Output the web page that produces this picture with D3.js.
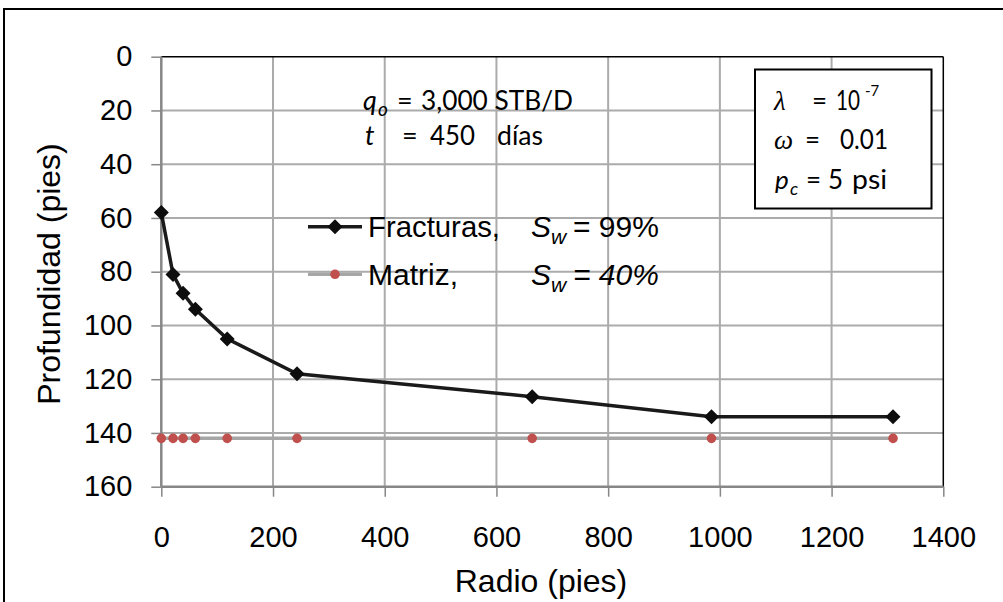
<!DOCTYPE html>
<html>
<head>
<meta charset="utf-8">
<script src="https://cdn.jsdelivr.net/npm/d3@7"></script>
<style>
  html, body { margin: 0; padding: 0; background: #fff; }
  svg { display: block; }
</style>
</head>
<body>
<svg id="chart" width="1003" height="602"></svg>
<script>
// ---- data ----
const radio = [0, 21, 39, 61, 118, 243, 664, 985, 1310];
const fracturas = [58, 81, 88, 94, 105, 118, 126.5, 134, 134];
const matriz = [142, 142, 142, 142, 142, 142, 142, 142, 142];
const xTicks = [0, 200, 400, 600, 800, 1000, 1200, 1400];
const yTicks = [0, 20, 40, 60, 80, 100, 120, 140, 160];
const seriesNames = ["Fracturas,", "Matriz,"];

// ---- layout ----
const svg = d3.select("#chart");
const L = 161.3, R = 943.3, T = 56.7, B = 486.7;
const x = d3.scaleLinear().domain([0, 1400]).range([L, R]);
const y = d3.scaleLinear().domain([0, 160]).range([T, B]);
const ARIAL = "'Liberation Sans', Arial, sans-serif";
const CAL = "Lato, 'Open Sans', sans-serif";

// outer frame
svg.append("rect").attr("x", 4).attr("y", 9).attr("width", 1020).attr("height", 620)
  .attr("fill", "#fff").attr("stroke", "#000").attr("stroke-width", 2);

// gridlines
const grid = svg.append("g");
grid.selectAll("line.h").data(yTicks.filter(d => d > 0 && d < 160)).join("line")
  .attr("x1", L).attr("x2", R).attr("y1", d => y(d)).attr("y2", d => y(d))
  .attr("stroke", "#ababab").attr("stroke-width", 2);
grid.selectAll("line.v").data(xTicks.filter(d => d > 0 && d < 1400)).join("line")
  .attr("y1", T).attr("y2", B).attr("x1", d => x(d)).attr("x2", d => x(d))
  .attr("stroke", "#ababab").attr("stroke-width", 2);

// plot border top/right
svg.append("line").attr("x1", L).attr("x2", R).attr("y1", T).attr("y2", T).attr("stroke", "#000").attr("stroke-width", 1.5);
svg.append("line").attr("x1", R).attr("x2", R).attr("y1", T).attr("y2", B).attr("stroke", "#000").attr("stroke-width", 1.5);

// axes
const yAxis = d3.axisLeft(y).tickValues(yTicks).tickSize(10).tickPadding(19).tickFormat(d3.format("d"));
const gy = svg.append("g").attr("transform", `translate(${L},0)`).call(yAxis);
const xAxis = d3.axisBottom(x).tickValues(xTicks).tickSize(10).tickPadding(30).tickFormat(d3.format("d"));
const gx = svg.append("g").attr("transform", `translate(0,${B})`).call(xAxis);
[gx, gy].forEach(g => {
  g.select(".domain").attr("stroke", "#878787").attr("stroke-width", 2.5);
  g.selectAll(".tick line").attr("stroke", "#878787").attr("stroke-width", 1.5);
  g.selectAll(".tick text").attr("fill", "#000").attr("font-family", ARIAL).attr("font-size", 29);
});
gx.select(".domain").attr("d", `M${L},0H${R}`);
gy.select(".domain").attr("d", `M0,${T}V${B}`);

// series: matriz
const lineM = d3.line().x((d, i) => x(radio[i])).y(d => y(d));
svg.append("path").datum(matriz).attr("d", lineM).attr("fill", "none")
  .attr("stroke", "#a6a6a6").attr("stroke-width", 3.5);
svg.append("g").selectAll("circle").data(matriz).join("circle")
  .attr("cx", (d, i) => x(radio[i])).attr("cy", d => y(d)).attr("r", 4.8).attr("fill", "#c0504d");

// series: fracturas
svg.append("path").datum(fracturas).attr("d", lineM).attr("fill", "none")
  .attr("stroke", "#1a1a1a").attr("stroke-width", 3.5);
svg.append("g").selectAll("path").data(fracturas).join("path")
  .attr("d", "M0,-7.5L7.5,0L0,7.5L-7.5,0Z")
  .attr("transform", (d, i) => `translate(${x(radio[i])},${y(d)})`).attr("fill", "#0d0d0d");

// axis titles
svg.append("text").attr("x", 541).attr("y", 592).attr("text-anchor", "middle")
  .attr("font-family", ARIAL).attr("font-size", 32).text("Radio (pies)");
svg.append("text").attr("transform", "translate(60,274) rotate(-90)").attr("text-anchor", "middle")
  .attr("font-family", ARIAL).attr("font-size", 32).text("Profundidad (pies)");

// helper for text pieces
function piece(t, px, py, opts = {}) {
  const el = svg.append("text").attr("x", px).attr("y", py)
    .attr("font-family", opts.family || CAL).attr("font-size", opts.size || 25)
    .attr("fill", "#000").text(t);
  if (opts.italic) el.attr("font-style", "italic");
  if (opts.len) el.attr("textLength", opts.len).attr("lengthAdjust", "spacingAndGlyphs");
  return el;
}

// annotation q_o, t
piece("q", 363, 110, { italic: true, size: 27 });
piece("o", 378, 116, { italic: true, size: 19 });
piece("=", 397, 110, { size: 27 });
piece("3,000 STB/D", 421, 110, { len: 152, size: 27 });
piece("t", 365, 145, { italic: true, size: 27 });
piece("=", 402, 145, { size: 27 });
piece("450", 430, 145, { len: 45, size: 27 });
piece("días", 497, 145, { len: 46, size: 27 });

// parameter box
svg.append("rect").attr("x", 755).attr("y", 69.5).attr("width", 176.5).attr("height", 139)
  .attr("fill", "#fff").attr("stroke", "#000").attr("stroke-width", 2);
piece("λ", 774, 110, { italic: true, family: "'Liberation Serif', serif", size: 27 });
piece("=", 812, 110, { size: 26 });
piece("10", 836, 110, { len: 24, size: 26 });
piece("-7", 865, 96, { size: 15 });
piece("ω", 774, 149, { italic: true, family: "'Liberation Serif', serif", size: 27 });
piece("=", 805, 149, { size: 26 });
piece("0.01", 840, 149, { len: 48, size: 26 });
piece("p", 775, 189, { italic: true, size: 26 });
piece("c", 790, 195, { italic: true, size: 18 });
piece("=", 806, 189, { size: 26 });
piece("5", 828, 189, { size: 26 });
piece("psi", 852, 189, { len: 35, size: 26 });

// legend
const legY = [226.7, 274.3];
svg.append("line").attr("x1", 308).attr("x2", 362).attr("y1", legY[0]).attr("y2", legY[0])
  .attr("stroke", "#1a1a1a").attr("stroke-width", 3.5);
svg.append("path").attr("d", "M0,-7.5L7.5,0L0,7.5L-7.5,0Z")
  .attr("transform", `translate(335,${legY[0]})`).attr("fill", "#0d0d0d");
svg.append("line").attr("x1", 308).attr("x2", 362).attr("y1", legY[1]).attr("y2", legY[1])
  .attr("stroke", "#a6a6a6").attr("stroke-width", 3.5);
svg.append("circle").attr("cx", 335).attr("cy", legY[1]).attr("r", 4.8).attr("fill", "#c0504d");

piece(seriesNames[0], 368, 237, { family: ARIAL, size: 30, len: 132 });
piece(seriesNames[1], 368, 285, { family: ARIAL, size: 30 });
piece("S", 531, 237, { family: ARIAL, size: 30, italic: true });
piece("w", 551, 244, { family: ARIAL, size: 21, italic: true });
piece("= 99%", 573, 237, { family: ARIAL, size: 30 });
piece("S", 531, 285, { family: ARIAL, size: 30, italic: true });
piece("w", 551, 292, { family: ARIAL, size: 21, italic: true });
piece("= 40%", 573, 285, { family: ARIAL, size: 30, italic: true });
</script>
</body>
</html>
